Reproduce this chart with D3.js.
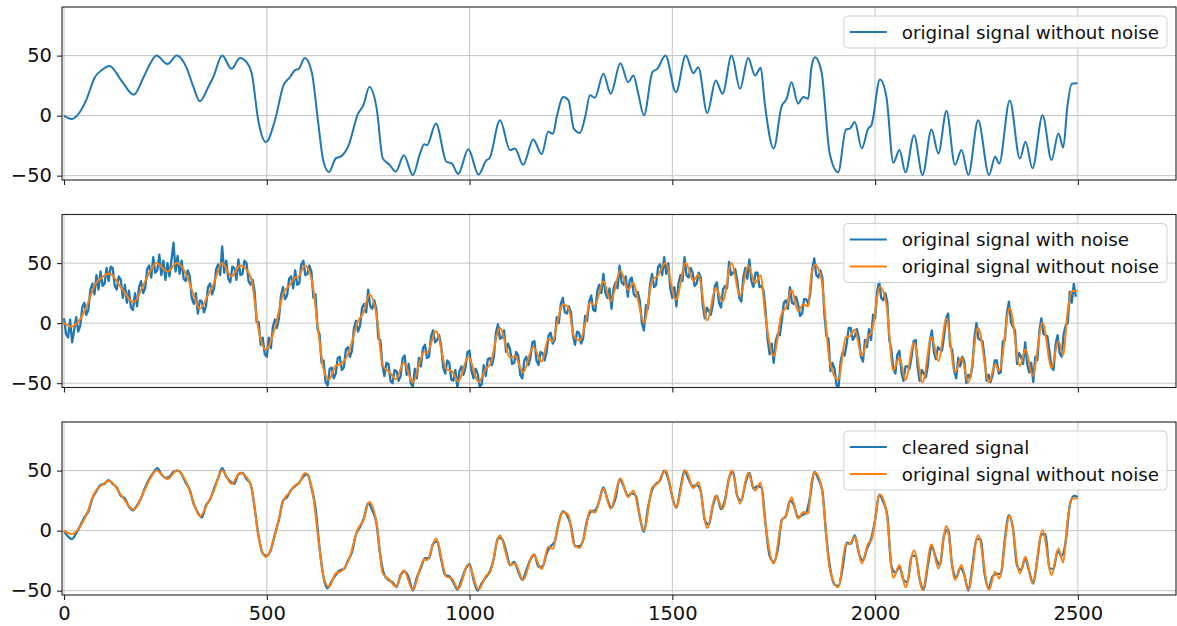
<!DOCTYPE html>
<html lang="en">
<head>
<meta charset="UTF-8">
<title>Signal denoising</title>
<style>
    body {
        margin: 0;
        background: #fff;
    }
    svg {
        display: block;
        font-family: "DejaVu Sans", sans-serif;
    }
</style>
</head>
<body>
<div id="container"></div>
<script src="https://cdn.jsdelivr.net/npm/d3@7/dist/d3.min.js"></script>
<script>
// original signal without noise: key points (sample index, value)
var cleanX = [0, 19, 39, 56, 76, 93, 112, 142, 172, 196,
    212, 228, 255, 278, 302, 319, 335, 356, 368, 390,
    413, 434, 450, 463, 479, 498, 520, 541, 557, 570,
    578, 594, 611, 627, 639, 653, 670, 684, 701, 725,
    738, 753, 771, 786, 803, 818, 838, 860, 878, 888,
    895, 917, 943, 956, 972, 997, 1022, 1042, 1049, 1075,
    1100, 1112, 1132, 1157, 1178, 1194, 1206, 1215, 1231, 1244,
    1257, 1272, 1285, 1297, 1309, 1330, 1348, 1372, 1391, 1404,
    1416, 1430, 1451, 1463, 1483, 1509, 1533, 1552, 1564, 1586,
    1607, 1624, 1646, 1667, 1687, 1704, 1718, 1728, 1750, 1769,
    1782, 1794, 1810, 1823, 1835, 1843, 1852, 1868, 1888, 1909,
    1928, 1938, 1950, 1967, 1983, 1991, 2012, 2028, 2045, 2060,
    2075, 2096, 2117, 2139, 2156, 2176, 2197, 2213, 2230, 2254,
    2281, 2296, 2306, 2332, 2357, 2371, 2388, 2413, 2435, 2452,
    2464, 2474, 2485, 2499];
var cleanY = [0, -2.8, 3, 14, 32, 38, 41.4, 29, 17.4, 32,
    43, 50, 43, 50, 40, 24, 12, 24, 32, 50,
    39, 48, 44.5, 35, -4, -22, -4, 25, 32, 38,
    38.7, 48, 36, -6.6, -37, -47, -35.6, -33.7, -25.4, 1.7,
    8.6, 23.8, 5.8, -35.6, -41, -46.7, -33, -49.4, -31.5, -23.8,
    -24.6, -6.6, -38.4, -39.8, -48.6, -28, -49, -37, -35.6, -3.9,
    -28.7, -27.3, -41, -19.9, -32, -13.5, -15, -1, 15.5, 12.7,
    -10.8, -14.4, -1.1, 16.9, 15, 34.8, 18.2, 43.6, 27.9, 33.4,
    18.2, 0.3, 36.2, 39, 50, 19.6, 50, 35.4, 40.3, 2.2,
    29.3, 18.2, 50, 22.4, 48, 33.4, 39.8, 10, -27.3, 7.2,
    14.1, 27.9, 10, 15.5, 14.1, 40.3, 48.6, 36.2, -31.5, -47.2,
    -11.6, -10.8, -5.2, -27.3, -10.8, -8, 30.1, 15.5, -39.2, -28.7,
    -47.2, -16.3, -49.4, -11.6, -31.5, 3.9, -41, -28.7, -49.4, -3.9,
    -49.4, -34.3, -39.8, 12.7, -35.6, -21.8, -43.9, 0.3, -37, -14.9,
    -26.5, 7.2, 26.5, 27];

// original signal with noise, one reading every 5 samples
var noisyStep = 5;
var noisyY = [4, -9, -12, 3, -16, -6, 5, -7, -2, 13, 17, 7, 11, 28, 33, 24, 40, 28, 43, 31,
    33, 46, 35, 47, 46, 31, 28, 39, 36, 21, 32, 17, 27, 13, 11, 25, 14, 30, 35, 25,
    29, 45, 48, 38, 55, 42, 44, 57, 40, 52, 36, 50, 39, 53, 67, 43, 56, 41, 52, 37,
    35, 44, 39, 21, 16, 25, 8, 19, 18, 9, 14, 30, 33, 24, 29, 45, 49, 40, 64, 42,
    52, 37, 34, 47, 46, 36, 53, 40, 41, 52, 50, 35, 32, 36, 26, 1, 1, -18, -12, -26,
    -28, -12, -21, -3, 3, -4, 4, 23, 30, 20, 23, 37, 39, 29, 44, 32, 33, 49, 52, 40,
    41, 48, 43, 21, 24, -5, -9, -33, -31, -49, -52, -38, -37, -46, -42, -29, -28, -39, -37, -22,
    -20, -28, -23, -4, 2, -7, -2, 13, 16, 9, 28, 14, 12, 19, 12, -13, -14, -35, -44, -33,
    -34, -48, -50, -39, -40, -48, -44, -29, -27, -43, -34, -50, -53, -38, -46, -29, -36, -21, -18, -29,
    -28, -11, -6, -16, -14, -10, -19, -37, -42, -31, -33, -47, -48, -39, -54, -40, -36, -43, -37, -24,
    -23, -40, -46, -38, -42, -53, -51, -35, -44, -30, -29, -35, -28, -8, -1, -13, -12, -6, -24, -17,
    -22, -34, -33, -24, -27, -43, -46, -31, -28, -35, -29, -16, -15, -31, -35, -24, -25, -31, -24, -10,
    -8, -17, -14, 5, 0, 16, 21, 9, 8, 14, 9, -10, -18, -7, -8, -17, -13, 6, 2, 18,
    23, 11, 10, 27, 32, 25, 41, 25, 21, 29, 12, 29, 34, 29, 48, 34, 32, 39, 22, 36,
    38, 24, 22, 26, 18, 0, -6, 15, 12, 32, 41, 30, 32, 47, 49, 40, 55, 41, 50, 29,
    21, 30, 14, 33, 40, 35, 55, 40, 38, 46, 42, 31, 33, 42, 38, 15, 4, 13, 10, 7,
    16, 31, 34, 17, 13, 28, 31, 29, 51, 40, 42, 45, 36, 21, 18, 38, 46, 37, 53, 35,
    30, 42, 42, 30, 31, 27, 10, -14, -26, -17, -33, -15, -9, -10, 2, 17, 19, 12, 30, 17,
    16, 22, 16, 6, 8, 20, 20, 16, 24, 45, 54, 40, 38, 44, 38, 7, -11, -13, -40, -33,
    -38, -52, -53, -32, -24, -27, -17, -4, -4, -14, -11, -5, -12, -28, -32, -14, -20, -5, -14, 7,
    4, 26, 35, 21, 19, 25, 18, -14, -22, -38, -42, -26, -23, -41, -48, -36, -36, -38, -28, -15,
    -14, -37, -48, -39, -42, -45, -36, -15, -6, -24, -30, -20, -22, -23, -11, 4, 8, -19, -22, -40,
    -46, -29, -36, -28, -32, -50, -43, -45, -36, -12, 0, -13, -14, -15, -29, -48, -43, -49, -43, -31,
    -31, -42, -41, -15, -14, 8, 18, 1, -3, -6, -34, -25, -28, -34, -16, -34, -41, -33, -49, -28,
    -31, -7, 4, -9, -10, -11, -24, -37, -39, -18, -10, -25, -28, -9, -2, 0, 26, 17, 33, 22];

// cleared signal, one reading every 10 samples
var clearedStep = 10;
var clearedY = [0, -5, -7, -2, 4, 11, 16, 27, 33, 38,
    39, 42, 39, 36, 29, 27, 20, 17, 21, 27,
    36, 43, 48, 52, 47, 44, 45, 49, 50, 47,
    40, 34, 22, 15, 11, 21, 26, 35, 44, 52,
    45, 41, 39, 47, 48, 43, 39, 19, -5, -19,
    -21, -16, -3, 9, 25, 28, 34, 37, 40, 45,
    47, 36, 19, -14, -39, -48, -42, -37, -33, -32,
    -25, -18, -3, 3, 11, 23, 17, 7, -21, -37,
    -41, -43, -47, -37, -34, -39, -50, -39, -31, -23,
    -23, -11, -9, -24, -37, -38, -43, -49, -41, -32,
    -28, -41, -50, -44, -39, -34, -23, -6, -7, -17,
    -29, -26, -34, -41, -33, -24, -20, -30, -30, -19,
    -13, -9, 7, 16, 13, 4, -13, -13, -8, 9,
    16, 17, 25, 36, 26, 19, 27, 43, 37, 29,
    31, 29, 11, -1, 19, 34, 39, 42, 50, 43,
    28, 19, 35, 50, 43, 37, 38, 33, 9, 5,
    21, 29, 18, 26, 44, 49, 29, 25, 39, 48,
    35, 37, 36, 5, -21, -26, -16, 9, 12, 25,
    21, 11, 13, 15, 29, 49, 43, 33, -6, -33,
    -45, -46, -31, -10, -11, -4, -19, -25, -15, -7,
    9, 30, 24, 13, -29, -35, -30, -41, -43, -21,
    -21, -41, -49, -29, -13, -23, -29, -4, 1, -29,
    -39, -31, -37, -50, -29, -7, -7, -36, -48, -38,
    -36, -36, -7, 13, 2, -29, -33, -23, -34, -44,
    -24, -3, -3, -31, -32, -17, -21, -9, 21, 29,
    28];

var xTicks = [0, 500, 1000, 1500, 2000, 2500];
var yTicks = [-50, 0, 50];

var blue = "#1f77b4", orange = "#ff7f0e";

var cleanPts = d3.zip(cleanX, cleanY);
var noisyPts = noisyY.map(function (v, i) { return [i * noisyStep, v]; });
var clearedPts = clearedY.map(function (v, i) { return [i * clearedStep, v]; });

var panels = [
    {
        lines: [{ pts: cleanPts, color: blue, w: 2, curve: d3.curveMonotoneX }],
        legend: [["original signal without noise", blue]]
    },
    {
        lines: [{ pts: noisyPts, color: blue, w: 2.3, curve: d3.curveLinear },
                { pts: cleanPts, color: orange, w: 2, curve: d3.curveMonotoneX }],
        legend: [["original signal with noise", blue], ["original signal without noise", orange]]
    },
    {
        lines: [{ pts: clearedPts, color: blue, w: 2.3, curve: d3.curveMonotoneX },
                { pts: cleanPts, color: orange, w: 2, curve: d3.curveMonotoneX }],
        legend: [["cleared signal", blue], ["original signal without noise", orange]]
    }
];

var W = 1177, H = 626;
var left = 62, right = 1176;
var panelTops = [7, 214.5, 422];
var panelH = 173;

var x = d3.scaleLinear().domain([-5, 2742]).range([left, right]);
var y = d3.scaleLinear().domain([-53.6, 90.5]).range([panelH, 0]);

var svg = d3.select("#container").append("svg")
    .attr("width", W)
    .attr("height", H);

var fmt = function (d) { return d < 0 ? "\u2212" + Math.abs(d) : String(d); };

panels.forEach(function (p, pi) {
    var g = svg.append("g").attr("transform", "translate(0," + panelTops[pi] + ")");

    g.append("clipPath").attr("id", "clip" + pi)
        .append("rect")
        .attr("x", left).attr("y", 0)
        .attr("width", right - left).attr("height", panelH);

    // grid
    g.selectAll("line.gx").data(xTicks).enter().append("line")
        .attr("x1", function (d) { return x(d); }).attr("x2", function (d) { return x(d); })
        .attr("y1", 0).attr("y2", panelH)
        .attr("stroke", "#c4c4c4").attr("stroke-width", 1);
    g.selectAll("line.gy").data(yTicks).enter().append("line")
        .attr("x1", left).attr("x2", right)
        .attr("y1", function (d) { return y(d); }).attr("y2", function (d) { return y(d); })
        .attr("stroke", "#c4c4c4").attr("stroke-width", 1);

    // series
    var plot = g.append("g").attr("clip-path", "url(#clip" + pi + ")");
    p.lines.forEach(function (s) {
        var line = d3.line()
            .x(function (d) { return x(d[0]); })
            .y(function (d) { return y(d[1]); })
            .curve(s.curve);
        plot.append("path")
            .datum(s.pts)
            .attr("d", line)
            .attr("fill", "none")
            .attr("stroke", s.color)
            .attr("stroke-width", s.w)
            .attr("stroke-linejoin", "round");
    });

    // frame
    g.append("rect")
        .attr("x", left).attr("y", 0)
        .attr("width", right - left).attr("height", panelH)
        .attr("fill", "none").attr("stroke", "#222").attr("stroke-width", 1.1);

    // axes
    var yAxis = g.append("g")
        .attr("transform", "translate(" + left + ",0)")
        .call(d3.axisLeft(y).tickValues(yTicks).tickSize(5).tickPadding(5).tickFormat(fmt));
    var xAxis = g.append("g")
        .attr("transform", "translate(0," + panelH + ")")
        .call(d3.axisBottom(x).tickValues(xTicks).tickSize(5).tickPadding(6)
            .tickFormat(pi === 2 ? fmt : function () { return ""; }));
    [yAxis, xAxis].forEach(function (a) {
        a.select(".domain").remove();
        a.selectAll("line").attr("stroke", "#222").attr("stroke-width", 1.1);
        a.selectAll("text")
            .attr("fill", "#111")
            .style("font-family", "DejaVu Sans, sans-serif")
            .style("font-size", "19.5px");
    });

    // legend
    var fs = 18.3;
    var rowH = 27;
    var boxRight = right - 9, boxTop = 9;
    var leg = g.append("g");
    var box = leg.append("rect")
        .attr("y", boxTop)
        .attr("height", 5 + rowH * p.legend.length)
        .attr("rx", 4)
        .attr("fill", "#fff").attr("fill-opacity", 0.8)
        .attr("stroke", "#d0d0d0").attr("stroke-width", 1);
    var maxW = 0;
    var rows = p.legend.map(function (item, i) {
        var cy = boxTop + 16 + rowH * i;
        var ln = leg.append("line")
            .attr("y1", cy).attr("y2", cy)
            .attr("stroke", item[1]).attr("stroke-width", 2);
        var t = leg.append("text")
            .attr("y", cy)
            .attr("dominant-baseline", "central")
            .style("font-size", fs + "px")
            .attr("fill", "#111")
            .text(item[0]);
        maxW = Math.max(maxW, t.node().getComputedTextLength());
        return { ln: ln, t: t };
    });
    var boxW = 58 + maxW + 8;
    var boxLeft = boxRight - boxW;
    box.attr("x", boxLeft).attr("width", boxW);
    rows.forEach(function (r) {
        r.ln.attr("x1", boxLeft + 6).attr("x2", boxLeft + 43);
        r.t.attr("x", boxLeft + 58);
    });
});
</script>
</body>
</html>
